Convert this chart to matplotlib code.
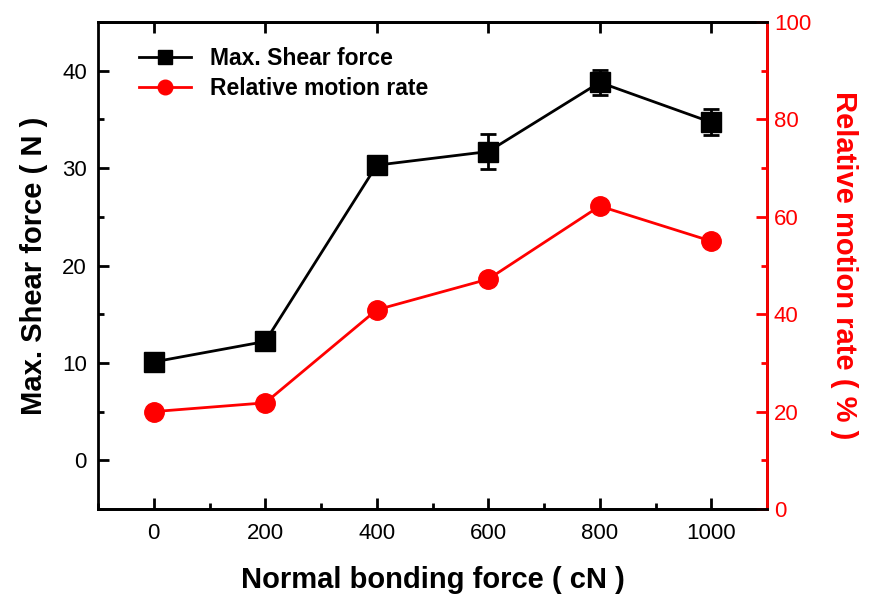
import numpy as np
import matplotlib.pyplot as plt
from matplotlib.ticker import MultipleLocator

plt.rcParams['font.family'] = ['Liberation Sans', 'DejaVu Sans']

# data
force = [0, 200, 400, 600, 800, 1000]
shear = [10.1, 12.2, 30.3, 31.7, 38.8, 34.7]
shear_err = [0.3, 0.3, 0.4, 1.8, 1.3, 1.35]
motion = [20.0, 21.8, 40.9, 47.2, 62.2, 55.0]

fig = plt.figure(figsize=(8.8, 5.96), dpi=100)
ax = fig.add_axes([98/880, 1 - 509/596, (767-98)/880, (509-22)/596])
ax2 = ax.twinx()

# shear force with error bars
l1, = ax.plot(force, shear, color='k', lw=2, marker='s', ms=14, label='Max. Shear force')
ax.errorbar(force, shear, yerr=shear_err, fmt='none', ecolor='k', elinewidth=2,
            capsize=6, capthick=2)
l2, = ax2.plot(force, motion, color='red', lw=2, marker='o', ms=14, label='Relative motion rate')

ax.set_xlim(-100, 1100)
ax.set_ylim(-5, 45)
ax2.set_ylim(0, 100)

ax.xaxis.set_major_locator(MultipleLocator(200))
ax.xaxis.set_minor_locator(MultipleLocator(100))
ax.yaxis.set_major_locator(MultipleLocator(10))
ax.yaxis.set_minor_locator(MultipleLocator(5))
ax2.yaxis.set_major_locator(MultipleLocator(20))
ax2.yaxis.set_minor_locator(MultipleLocator(10))

for a in (ax, ax2):
    for s in a.spines.values():
        s.set_linewidth(2)
ax2.spines['right'].set_color('red')
ax2.spines['left'].set_visible(False)

ax.tick_params(axis='both', which='both', direction='in', width=2, labelsize=16)
ax.tick_params(which='major', length=8)
ax.tick_params(which='minor', length=4)
ax.tick_params(axis='x', top=True, pad=10)
ax.tick_params(axis='y', pad=8)
ax2.tick_params(which='both', direction='in', width=2, colors='red', labelsize=16, pad=5)
ax2.tick_params(which='major', length=8)
ax2.tick_params(which='minor', length=4)

ax.set_xlabel('Normal bonding force ( cN )', fontsize=21, fontweight='bold', labelpad=16)
ax.set_ylabel('Max. Shear force ( N )', fontsize=21, fontweight='bold', labelpad=10)
ax2.set_ylabel('Relative motion rate ( % )', fontsize=21, fontweight='bold', color='red',
               rotation=270, labelpad=34)

ax.legend([l1, l2], [l1.get_label(), l2.get_label()], loc='upper left',
          bbox_to_anchor=(0.03, 0.99), frameon=False, markerscale=0.75,
          prop={'weight': 'bold', 'size': 16.5}, handlelength=2.3, labelspacing=0.3)

fig.savefig('out.png', dpi=100)
